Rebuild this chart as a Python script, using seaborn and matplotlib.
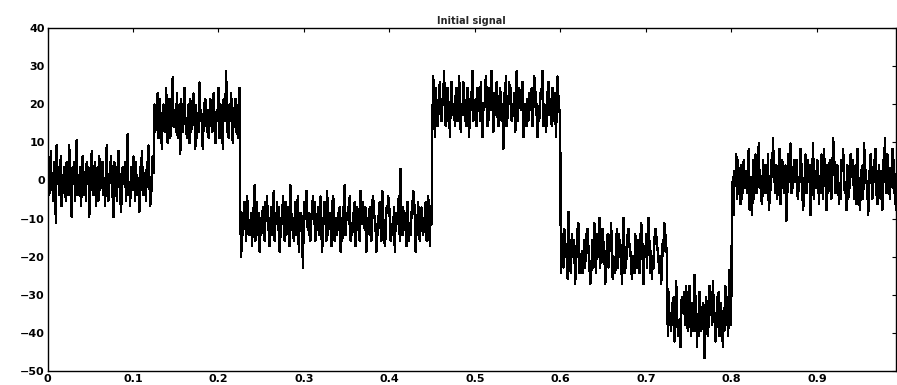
import numpy as np
import pandas as pd
import matplotlib
matplotlib.use("Agg")
import matplotlib.pyplot as plt
import seaborn as sns

# Piecewise-constant signal: breakpoints (x) and levels
breaks = [0.0, 0.125, 0.225, 0.45, 0.6, 0.725, 0.8, 1.0]
levels = [0.5, 17.0, -10.0, 20.0, -18.5, -35.0, 1.0]

# Per-sample noise read as letter codes ('k' = 0, one letter ~ 1.45 units)
noise_codes = (
    "kmhjpilgnkcqjmhlofikmjgnlhqkidmjnglrhkjmfiolhkgnjmdkiplhjnfkmgoi"
    "jlnhkfmqigjlokhdnjmgkpliehmkjnglshjfmkiolgnhkjemipkhljgnmqkfhjol"
    "mhkjognliekmjhplfkngjmriklhogjmdnkhlpjigkmfnhjlokemgjhqkliejmnkh"
    "lgjnkhmoifkljpgmhkenjlshkgmjoifklnhjgmpkdlhjnkgomihjlfkmqgjnhlek"
    "hkmjgnloikfjmhlpgkjnimehkjolgnhkmjfqlikgjnhmoekljhbmnkpjilhgkmoj"
    "ngkjmhloiekjnmgphkljfmongkhjlimekgjnqhlkmjogihlknfjmkhgpljnkimeh"
    "kjmhgnolkiejhmnlgpkjfhmlonkgjihmekljnogtkhmjlifnkgjhlmpokeijnhgk"
    "mihkjnglokfmjhplenkgjmoihklqjgmnhkeloijkgmnhjplfkiomhjgnkeljmqhk"
    "jlgnkmhoiekjlpmghnkjqlfhmkoigjnlhkcmjpgikolnhkjmfgqhlnkjmoeikhgl"
    "hmkjnglpoikejhmlnqgkjfhmoilkgnjhmekpljignkhomjlfrkhgnjmleikopgjh"
    "kgjmhnlokiefjmhplgnkjqhmiolkegjnhmkplfjigkohnmjlekqgjhmnolkifjhg"
    "nkhjmglpoiekjnhmqlgkfjhmonlkigjehmkpnljgoikhmjnflqkhgjemnlkoipjh"
    "ipkgmjhrnlekgoihjmkclnhgjpkmiqljfhnkogmjielhpkngjsimhkdljognkhfm"
    "gkniljhmpekjdnglohkmqijgfnlkhmjoeginkrljhmgkipfjnlhkmcgojlqhkinj"
    "lnhgkjpmiegkohlnjmdhkqgljinmfkhojgplkemhinjgkrolhjmkfignlpkhjemg"
    "hjolkngimfpkjehlmgqnkjidhmolgknjphfkmiglenjrkhomjgklpinfhejmkogl"
)

title = "Initial signal"
xticks = [0, 0.1, 0.2, 0.3, 0.4, 0.5, 0.6, 0.7, 0.8, 0.9]
xticklabels = ["0", "0.1", "0.2", "0.3", "0.4", "0.5", "0.6", "0.7", "0.8", "0.9"]
yticks = [-50, -40, -30, -20, -10, 0, 10, 20, 30, 40]

n = len(noise_codes)
t = np.arange(n) / n
noise = np.array([ord(c) - ord("k") for c in noise_codes], dtype=float) * 1.45
base = np.zeros(n)
for i, lv in enumerate(levels):
    mask = (t >= breaks[i]) & (t < breaks[i + 1])
    base[mask] = lv
signal = base + noise
df = pd.DataFrame({"t": t, "signal": signal})

sns.set_theme(style="white")
plt.rcParams["font.family"] = ["DejaVu Sans"]

fig = plt.figure(figsize=(8.97, 3.85), dpi=100)
ax = fig.add_axes([47.5 / 897, 1 - 371 / 385, (896 - 47.5) / 897, (371 - 28) / 385])
sns.lineplot(data=df, x="t", y="signal", color="black", linewidth=1.0,
             estimator=None, antialiased=False, ax=ax)

ax.set_xlim(0, 0.9925)
ax.set_ylim(-50, 40)
ax.set_xticks(xticks)
ax.set_xticklabels(xticklabels)
ax.set_yticks(yticks)
ax.set_xlabel("")
ax.set_ylabel("")
ax.set_title(title, fontsize=7, fontweight="bold", pad=3)
ax.tick_params(direction="in", length=3, width=0.8, top=True, right=True,
               labelsize=8, pad=2, colors="black")
for lab in ax.get_xticklabels() + ax.get_yticklabels():
    lab.set_fontweight("bold")
for s in ax.spines.values():
    s.set_color("black")
    s.set_linewidth(1.0)
    s.set_visible(True)

fig.savefig("out.png", dpi=100)
